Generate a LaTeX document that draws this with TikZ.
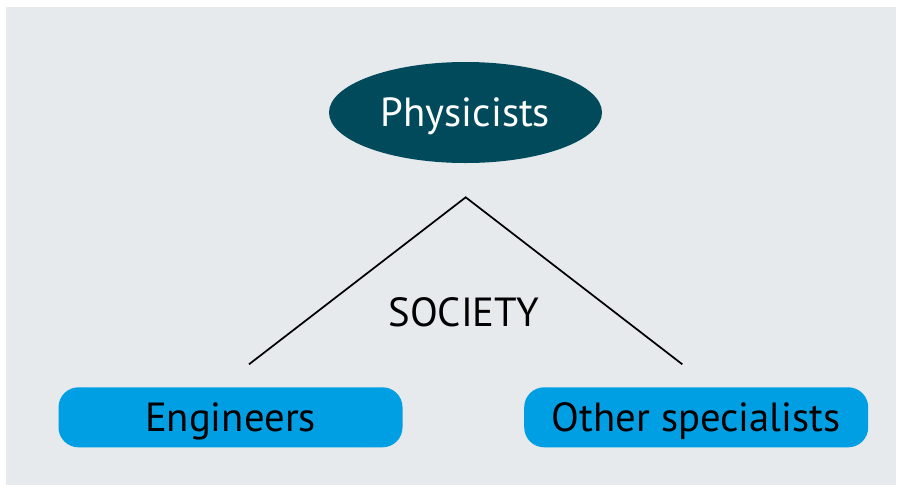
\documentclass[tikz,border=0pt]{standalone}
\usepackage{fontspec}
\setmainfont{PT Sans}
\usetikzlibrary{shapes.geometric}

\definecolor{panelgrey}{RGB}{230,234,237}
\definecolor{darkteal}{RGB}{0,74,92}
\definecolor{skyblue}{RGB}{0,159,227}

\tikzset{
  labelfont/.style={font=\fontsize{30.5}{36}\selectfont, text depth=0pt},
  rolebox/.style={rectangle, rounded corners=15pt, fill=skyblue, minimum width=258pt, minimum height=45pt, inner sep=0pt, text=black, labelfont},
  roofline/.style={line width=1.3pt, black}
}

\begin{document}
\begin{tikzpicture}[x=0.75pt,y=0.75pt,yscale=-1,xscale=1]
\useasboundingbox (0,0) rectangle (902,486);

%Shape: Rectangle [id:background]
\fill [panelgrey] (6,7) rectangle (896,485);

%Shape: Ellipse [id:physicists]
\node (physicists) [ellipse, fill=darkteal, minimum width=204.75pt, minimum height=75.75pt, inner sep=0pt, text=white, labelfont] at (465.5,112.5) {Physicists};

%Shape: Rounded Rectangle [id:engineers]
\node (engineers) [rolebox] at (230.5,417.3) {Engineers};
%Shape: Rounded Rectangle [id:others]
\node (others) [rolebox] at (696.2,417.3) {Other specialists};

%Straight Lines [id:roof]
\coordinate (apex) at (465.7,197.3);
\coordinate (roofleft) at (249,364.3);
\coordinate (roofright) at (682.3,364.3);
\draw [roofline] (roofleft) -- (apex) -- (roofright);

% Text Node
\node (society) [labelfont] at (464,312.5) {SOCIETY};

\end{tikzpicture}
\end{document}
